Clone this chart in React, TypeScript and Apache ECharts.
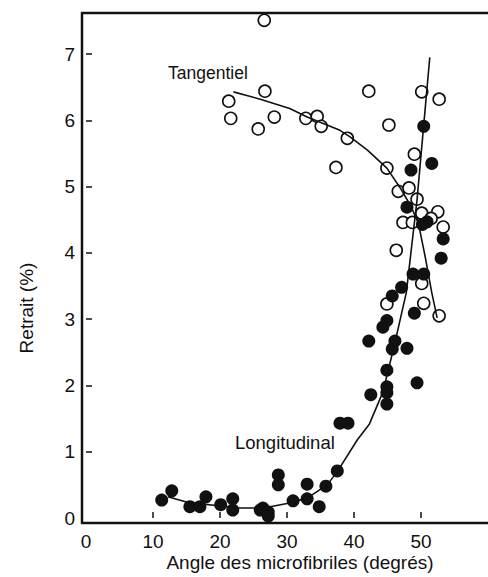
import React, { useEffect, useRef } from "react";
import * as echarts from "echarts";

const xTickValues = [0, 10, 20, 30, 40, 50];
const yTickValues = [0, 1, 2, 3, 4, 5, 6, 7];

// Open circles (Tangentiel)
const tangentielPoints: [number, number][] = [
  [26.6, 7.51], [21.3, 6.29], [21.6, 6.03], [26.7, 6.44], [25.7, 5.87],
  [28.1, 6.05], [32.8, 6.03], [34.5, 6.06], [35.1, 5.91], [39.0, 5.73],
  [37.3, 5.29], [42.2, 6.44], [45.2, 5.93], [50.1, 6.43], [52.7, 6.32],
  [44.9, 5.28], [49.0, 5.49], [46.6, 4.93], [48.2, 4.98], [49.4, 4.81],
  [50.1, 4.6], [52.5, 4.62], [51.5, 4.52], [47.3, 4.46], [48.7, 4.46],
  [53.3, 4.39], [46.3, 4.04], [50.1, 3.54], [50.4, 3.24], [52.7, 3.05],
  [44.9, 3.23],
];

// Filled circles (Longitudinal)
const longitudinalPoints: [number, number][] = [
  [11.3, 0.27], [12.8, 0.41], [15.5, 0.17], [17.0, 0.17], [17.9, 0.32],
  [20.1, 0.2], [21.9, 0.29], [21.9, 0.12], [26.0, 0.12], [26.4, 0.15],
  [27.2, 0.09], [27.2, 0.03], [28.7, 0.65], [28.7, 0.5], [30.9, 0.26],
  [33.0, 0.51], [33.0, 0.29], [34.8, 0.17], [35.8, 0.48], [37.5, 0.71],
  [37.9, 1.43], [39.1, 1.43], [42.2, 2.67], [42.5, 1.86], [44.3, 2.88],
  [44.9, 2.98], [44.9, 2.23], [44.9, 1.98], [44.9, 1.89], [44.9, 1.72],
  [45.7, 2.55], [46.1, 2.67], [45.7, 3.35], [47.1, 3.48], [47.9, 2.56],
  [49.0, 3.09], [49.4, 2.04], [48.8, 3.68], [50.4, 3.68], [53.0, 3.92],
  [53.3, 4.21], [50.2, 4.43], [50.9, 4.47], [47.9, 4.69], [48.5, 5.25],
  [51.6, 5.35], [50.4, 5.91],
];

const tangentielCurve: [number, number][] = [
  [22.0, 6.43], [26.0, 6.32], [30.4, 6.18], [33.0, 6.05], [37.9, 5.85],
  [39.4, 5.75], [42.0, 5.55], [44.9, 5.28], [46.9, 4.98], [48.5, 4.7],
  [49.6, 4.45], [50.6, 3.95], [51.6, 3.4], [52.4, 3.02],
];

const longitudinalCurve: [number, number][] = [
  [12.2, 0.32], [15.0, 0.24], [20.0, 0.18], [23.0, 0.15], [26.5, 0.15],
  [30.0, 0.22], [33.0, 0.3], [36.0, 0.5], [37.5, 0.7], [40.5, 1.18],
  [42.3, 1.42], [44.3, 1.9], [46.0, 2.6], [47.8, 3.4], [49.4, 4.8],
  [51.3, 6.95],
];

const FONT = "'Liberation Sans', Arial, sans-serif";
const INK = "#111";

export default function App() {
  const ref = useRef<HTMLDivElement>(null);
  useEffect(() => {
    const chart = echarts.init(ref.current!, null, { renderer: "svg" });
    chart.setOption({
      animation: false,
      backgroundColor: "#fff",
      grid: { left: 86, top: 13, right: 0, bottom: 59, containLabel: false },
      xAxis: {
        type: "value",
        min: 0,
        max: 59.99,
        interval: 10,
        offset: 5,
        axisLine: { show: false },
        axisTick: {
          inside: true,
          length: 6,
          customValues: [10, 20, 30, 40, 50],
          lineStyle: { color: INK, width: 1.5 },
        },
        axisLabel: {
          margin: 9,
          fontSize: 19,
          color: INK,
          fontFamily: FONT,
          customValues: xTickValues,
        },
        splitLine: { show: false },
      },
      yAxis: {
        type: "value",
        min: 0,
        max: 7.62,
        interval: 1,
        offset: 4,
        axisLine: { show: false },
        axisTick: {
          inside: true,
          length: 6,
          customValues: [1, 2, 3, 4, 5, 6, 7],
          lineStyle: { color: INK, width: 1.5 },
        },
        axisLabel: {
          margin: 7,
          fontSize: 19,
          color: INK,
          fontFamily: FONT,
          padding: [0, 0, 10, 0],
          customValues: yTickValues,
        },
        splitLine: { show: false },
      },
      graphic: [
        { type: "line", shape: { x1: 82, y1: 12, x2: 82, y2: 524 }, style: { stroke: INK, lineWidth: 2.5 }, z: 10 },
        { type: "line", shape: { x1: 81, y1: 523, x2: 488, y2: 523 }, style: { stroke: INK, lineWidth: 2.5 }, z: 10 },
        { type: "line", shape: { x1: 81, y1: 13, x2: 488, y2: 13 }, style: { stroke: INK, lineWidth: 2.5 }, z: 10 },
        {
          type: "text", x: 168, y: 73, z: 10,
          style: { text: "Tangentiel", font: `17.5px ${FONT}`, fill: INK, textAlign: "left", textVerticalAlign: "middle" },
        },
        {
          type: "text", x: 235, y: 442, z: 10,
          style: { text: "Longitudinal", font: `18.5px ${FONT}`, fill: INK, textAlign: "left", textVerticalAlign: "middle" },
        },
        {
          type: "text", x: 26, y: 308, rotation: Math.PI / 2, z: 10,
          style: { text: "Retrait (%)", font: `19px ${FONT}`, fill: INK, textAlign: "center", textVerticalAlign: "middle" },
        },
        {
          type: "text", x: 300, y: 562, z: 10,
          style: { text: "Angle des microfibriles (degrés)", font: `19px ${FONT}`, fill: INK, textAlign: "center", textVerticalAlign: "middle" },
        },
      ],
      series: [
        {
          name: "Tangentiel",
          type: "scatter",
          data: tangentielPoints,
          symbol: "circle",
          symbolSize: 12,
          itemStyle: { color: "#fff", borderColor: INK, borderWidth: 1.6, opacity: 1 },
          z: 2,
        },
        {
          name: "Longitudinal",
          type: "scatter",
          data: longitudinalPoints,
          symbol: "circle",
          symbolSize: 13,
          itemStyle: { color: INK, opacity: 1 },
          z: 3,
        },
        {
          name: "Tangentiel fit",
          type: "line",
          data: tangentielCurve,
          showSymbol: false,
          symbol: "none",
          lineStyle: { color: INK, width: 1.6 },
          z: 4,
        },
        {
          name: "Longitudinal fit",
          type: "line",
          data: longitudinalCurve,
          showSymbol: false,
          symbol: "none",
          lineStyle: { color: INK, width: 1.6 },
          z: 4,
        },
      ],
    });
    return () => chart.dispose();
  }, []);
  return (
    <div
      ref={ref}
      style={{ position: "absolute", left: 0, top: 0, width: 488, height: 577 }}
    />
  );
}
